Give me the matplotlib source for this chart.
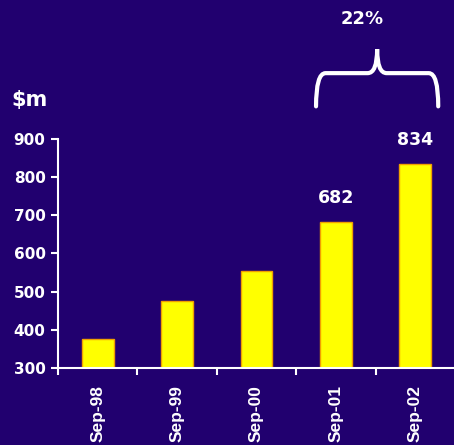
import matplotlib
matplotlib.use("Agg")
import matplotlib.pyplot as plt
import matplotlib.transforms as mtransforms
from matplotlib.path import Path
from matplotlib.patches import PathPatch

categories = ["Sep-98", "Sep-99", "Sep-00", "Sep-01", "Sep-02"]
revenue = [375, 475, 555, 682, 834]
labelled = {3: 682, 4: 834}
yticks = [300, 400, 500, 600, 700, 800, 900]
growth_label = "22%"

bg = "#21006F"
fig = plt.figure(figsize=(4.54, 4.45), dpi=100, facecolor=bg)
ax = fig.add_axes([0.128, 0.173, 0.874, 0.515], facecolor=bg)

x = range(len(categories))
ax.bar(x, revenue, width=0.4, color="#FFFF00", edgecolor="#F0A000", linewidth=1.0, bottom=0)
ax.set_ylim(300, 900)
ax.set_xlim(-0.5, len(categories) - 0.5)

for s in ["top", "right"]:
    ax.spines[s].set_visible(False)
for s in ["left", "bottom"]:
    ax.spines[s].set_color("white")
    ax.spines[s].set_linewidth(1.5)

ax.set_yticks(yticks)
ax.set_yticklabels([str(v) for v in yticks], color="white", fontsize=11,
                   fontweight="bold", family="DejaVu Sans")
ax.tick_params(axis="y", colors="white", length=5, width=1.5, pad=4)

# category boundaries carry the x ticks; labels run up from the bottom edge
ax.set_xticks([i - 0.5 for i in x])
ax.set_xticklabels([])
ax.tick_params(axis="x", colors="white", length=5, width=1.5)

trans = mtransforms.blended_transform_factory(ax.transData, fig.transFigure)
for i, name in zip(x, categories):
    ax.text(i, 0.006, name, transform=trans, rotation=90, ha="center", va="bottom",
            color="white", fontsize=12.5, fontweight="bold", family="Liberation Sans",
            clip_on=False)

for i, v in labelled.items():
    ax.text(i, v + 40, str(v), ha="center", va="bottom", color="white",
            fontsize=12.5, fontweight="bold", family="DejaVu Sans")

fig.text(0.026, 0.775, "$m", color="white", fontsize=15, fontweight="bold",
         family="DejaVu Sans", ha="left", va="center")

# brace over the last two years
x0, x1 = 2.75, 4.29
xm = (x0 + x1) / 2
yb, yt, yp = 985, 1072, 1135
dx = 0.12
verts = [(x0, yb), (x0, yt), (x0 + dx, yt), (xm - dx, yt), (xm, yt), (xm, yp),
         (xm, yt), (xm + dx, yt), (x1 - dx, yt), (x1, yt), (x1, yb)]
codes = [Path.MOVETO, Path.CURVE3, Path.CURVE3, Path.LINETO, Path.CURVE3, Path.CURVE3,
         Path.CURVE3, Path.CURVE3, Path.LINETO, Path.CURVE3, Path.CURVE3]
ax.add_patch(PathPatch(Path(verts, codes), facecolor="none", edgecolor="white",
                       linewidth=3, clip_on=False, capstyle="round"))
ax.text(3.33, 1215, growth_label, ha="center", va="center", color="white",
        fontsize=13, fontweight="bold", family="DejaVu Sans")

fig.savefig("out.png", dpi=100, facecolor=bg)
